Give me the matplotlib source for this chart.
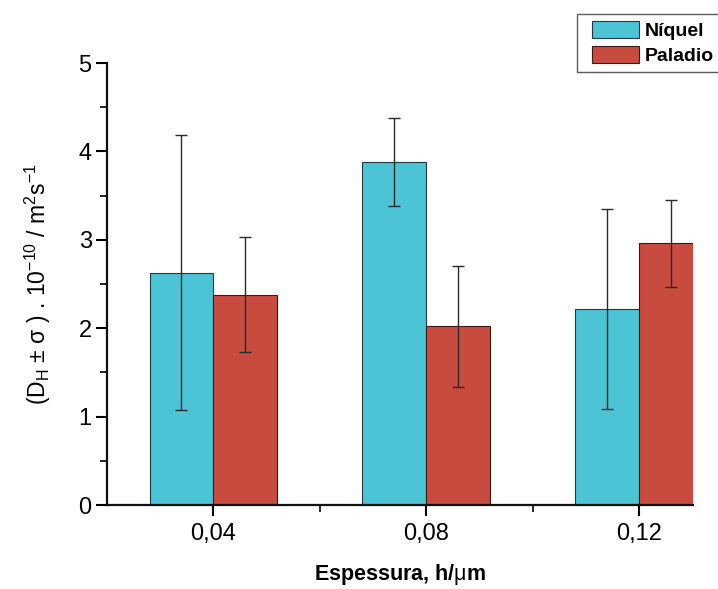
import numpy as np
import matplotlib
matplotlib.use("Agg")
import matplotlib.pyplot as plt
from matplotlib.patches import Rectangle
from matplotlib.container import BarContainer
from matplotlib.legend_handler import HandlerPatch
from matplotlib.ticker import MultipleLocator, FixedLocator

plt.rcParams['font.family'] = ['Liberation Sans', 'DejaVu Sans']
plt.rcParams['mathtext.fontset'] = 'custom'
plt.rcParams['mathtext.rm'] = 'Liberation Sans'
plt.rcParams['mathtext.it'] = 'Liberation Sans'

# data
espessura = [0.04, 0.08, 0.12]
espessura_labels = ['0,04', '0,08', '0,12']
niquel = [2.63, 3.88, 2.22]
niquel_err = [1.56, 0.50, 1.13]
paladio = [2.38, 2.02, 2.96]
paladio_err = [0.65, 0.68, 0.49]

c_ni = '#4dc3d6'
c_pd = '#c84b40'
width = 0.012

fig = plt.figure(figsize=(7.18, 5.89), dpi=100)
ax = fig.add_axes([0.149, 0.1426, 0.816, 0.7504])

x = np.array(espessura)
err_kw = dict(ecolor='#2a2a2a', elinewidth=1.0, capsize=4, capthick=1.0)
ax.bar(x - width / 2, niquel, width, yerr=niquel_err, color=c_ni,
       edgecolor='#1f3a40', linewidth=0.8, label='Níquel', error_kw=err_kw)
ax.bar(x + width / 2, paladio, width, yerr=paladio_err, color=c_pd,
       edgecolor='#3a1a16', linewidth=0.8, label='Paladio', error_kw=err_kw)

ax.set_xlim(0.02, 0.1301)
ax.set_ylim(0, 5)
ax.set_xticks(espessura)
ax.set_xticklabels(espessura_labels)
ax.xaxis.set_minor_locator(FixedLocator([0.06, 0.10]))
ax.yaxis.set_major_locator(MultipleLocator(1))
ax.yaxis.set_minor_locator(MultipleLocator(0.5))

for s in ['top', 'right']:
    ax.spines[s].set_visible(False)
for s in ['left', 'bottom']:
    ax.spines[s].set_linewidth(1.6)
    ax.spines[s].set_color('#111111')

ax.tick_params(which='major', direction='out', length=8, width=1.5, labelsize=17, pad=3)
ax.tick_params(axis='x', which='major', pad=5)
ax.tick_params(which='minor', direction='out', length=5, width=1.2)

ax.set_xlabel('Espessura, h/$\\mu$m', fontsize=15.5, fontweight='bold', labelpad=12)
ax.set_ylabel('(D$_{\\rm H}$ $\\pm$ $\\sigma$ ) . 10$^{-10}$ / m$^{2}$s$^{-1}$',
              fontsize=16.5)
ax.yaxis.set_label_coords(-0.092, 0.5)


# legend swatch pushed a little right, like the original
def swatch(legend, orig_handle, xdescent, ydescent, width, height, fontsize):
    off = 6
    return Rectangle((-xdescent + off, -ydescent), width - off, height)


def from_first_bar(legend_handle, orig_handle):
    legend_handle.update_from(orig_handle.patches[0])


leg = fig.legend(loc='upper left', bbox_to_anchor=(0.8036, 0.976), fontsize=14,
                 frameon=True, fancybox=False, edgecolor='#333333',
                 handlelength=2.85, handleheight=0.95, handletextpad=0.3,
                 borderpad=0.35, labelspacing=0.3, borderaxespad=0,
                 handler_map={BarContainer: HandlerPatch(patch_func=swatch,
                                                         update_func=from_first_bar)})
leg.get_frame().set_linewidth(1.0)
for t in leg.get_texts():
    t.set_fontweight('bold')

fig.savefig('out.png', dpi=100)
